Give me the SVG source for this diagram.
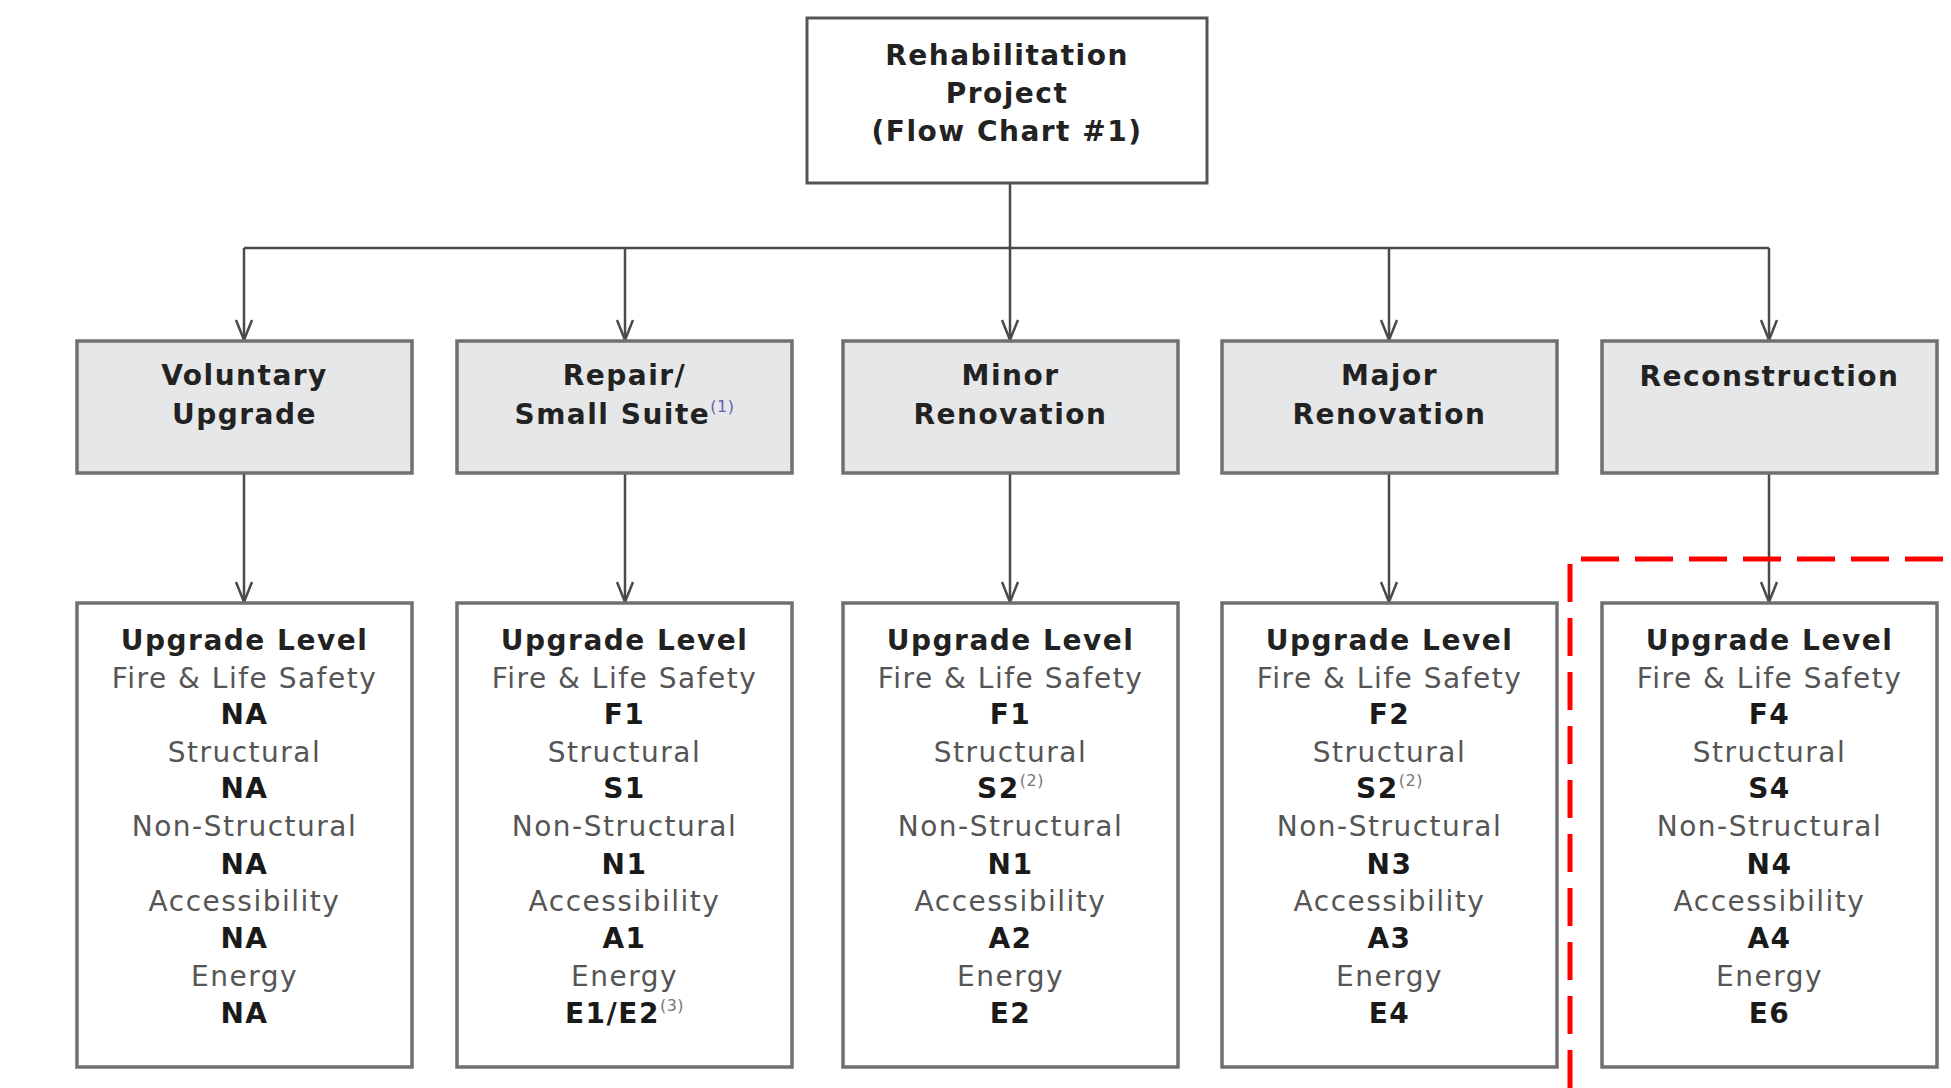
<svg xmlns="http://www.w3.org/2000/svg" width="1951" height="1088" viewBox="0 0 1951 1088">
<defs>
<style>
text{font-family:"DejaVu Sans","Verdana",sans-serif;font-size:28px;letter-spacing:1.5px;text-anchor:middle}
.hd{font-weight:bold;fill:#222}
.lbl{fill:#555}
.val{font-weight:bold;fill:#1a1a1a}
.sup{font-size:16px;font-weight:normal;letter-spacing:0.5px}
.top{fill:#fff;stroke:#555;stroke-width:3}
.cat{fill:#e6e7e9;stroke:#707070;stroke-width:3.5}
.lvl{fill:#fff;stroke:#707070;stroke-width:3.5}
.conn{fill:none;stroke:#4a4a4a;stroke-width:2.5}
</style>
<marker id="arr" viewBox="-22 -10 24 20" markerWidth="24" markerHeight="20" refX="0" refY="0" orient="auto" markerUnits="userSpaceOnUse">
<path d="M -20 -8 L 0 0 L -20 8" fill="none" stroke="#4a4a4a" stroke-width="2.5"/>
</marker>
</defs>
<rect width="1951" height="1088" fill="#fff"/>

<g id="connectors">
<path class="conn" d="M 1010 183 L 1010 248"/>
<path class="conn" d="M 244 248 L 1769 248"/>
<path class="conn" d="M 244 248 L 244 340" marker-end="url(#arr)"/>
<path class="conn" d="M 625 248 L 625 340" marker-end="url(#arr)"/>
<path class="conn" d="M 1010 248 L 1010 340" marker-end="url(#arr)"/>
<path class="conn" d="M 1389 248 L 1389 340" marker-end="url(#arr)"/>
<path class="conn" d="M 1769 248 L 1769 340" marker-end="url(#arr)"/>
<path class="conn" d="M 244 473 L 244 602" marker-end="url(#arr)"/>
<path class="conn" d="M 625 473 L 625 602" marker-end="url(#arr)"/>
<path class="conn" d="M 1010 473 L 1010 602" marker-end="url(#arr)"/>
<path class="conn" d="M 1389 473 L 1389 602" marker-end="url(#arr)"/>
<path class="conn" d="M 1769 473 L 1769 602" marker-end="url(#arr)"/>
</g>

<g id="project">
<rect class="top" x="807" y="18" width="400" height="165"/>
<text class="hd" x="1007" y="65">Rehabilitation</text>
<text class="hd" x="1007" y="103">Project</text>
<text class="hd" x="1007" y="141">(Flow Chart #1)</text>
</g>

<g id="voluntary">
<rect class="cat" x="77" y="341" width="335" height="132"/>
<text class="hd" x="244.5" y="385">Voluntary</text>
<text class="hd" x="244.5" y="424">Upgrade</text>
</g>
<g id="repair">
<rect class="cat" x="457" y="341" width="335" height="132"/>
<text class="hd" x="624.5" y="385">Repair/</text>
<text class="hd" x="624.5" y="424">Small Suite<tspan class="sup" dy="-12" fill="#6a5fb0">(1)</tspan></text>
</g>
<g id="minor">
<rect class="cat" x="843" y="341" width="335" height="132"/>
<text class="hd" x="1010.5" y="385">Minor</text>
<text class="hd" x="1010.5" y="424">Renovation</text>
</g>
<g id="major">
<rect class="cat" x="1222" y="341" width="335" height="132"/>
<text class="hd" x="1389.5" y="385">Major</text>
<text class="hd" x="1389.5" y="424">Renovation</text>
</g>
<g id="reconstruction">
<rect class="cat" x="1602" y="341" width="335" height="132"/>
<text class="hd" x="1769.5" y="386">Reconstruction</text>
</g>

<g id="level-voluntary">
<rect class="lvl" x="77" y="603" width="335" height="464"/>
<text class="hd" x="244.5" y="650">Upgrade Level</text>
<text class="lbl" x="244.5" y="688">Fire &amp; Life Safety</text>
<text class="val" x="244.5" y="724">NA</text>
<text class="lbl" x="244.5" y="762">Structural</text>
<text class="val" x="244.5" y="798">NA</text>
<text class="lbl" x="244.5" y="836">Non-Structural</text>
<text class="val" x="244.5" y="874">NA</text>
<text class="lbl" x="244.5" y="911">Accessibility</text>
<text class="val" x="244.5" y="948">NA</text>
<text class="lbl" x="244.5" y="986">Energy</text>
<text class="val" x="244.5" y="1023">NA</text>
</g>
<g id="level-repair">
<rect class="lvl" x="457" y="603" width="335" height="464"/>
<text class="hd" x="624.5" y="650">Upgrade Level</text>
<text class="lbl" x="624.5" y="688">Fire &amp; Life Safety</text>
<text class="val" x="624.5" y="724">F1</text>
<text class="lbl" x="624.5" y="762">Structural</text>
<text class="val" x="624.5" y="798">S1</text>
<text class="lbl" x="624.5" y="836">Non-Structural</text>
<text class="val" x="624.5" y="874">N1</text>
<text class="lbl" x="624.5" y="911">Accessibility</text>
<text class="val" x="624.5" y="948">A1</text>
<text class="lbl" x="624.5" y="986">Energy</text>
<text class="val" x="624.5" y="1023">E1/E2<tspan class="sup" dy="-12" fill="#777">(3)</tspan></text>
</g>
<g id="level-minor">
<rect class="lvl" x="843" y="603" width="335" height="464"/>
<text class="hd" x="1010.5" y="650">Upgrade Level</text>
<text class="lbl" x="1010.5" y="688">Fire &amp; Life Safety</text>
<text class="val" x="1010.5" y="724">F1</text>
<text class="lbl" x="1010.5" y="762">Structural</text>
<text class="val" x="1010.5" y="798">S2<tspan class="sup" dy="-12" fill="#777">(2)</tspan></text>
<text class="lbl" x="1010.5" y="836">Non-Structural</text>
<text class="val" x="1010.5" y="874">N1</text>
<text class="lbl" x="1010.5" y="911">Accessibility</text>
<text class="val" x="1010.5" y="948">A2</text>
<text class="lbl" x="1010.5" y="986">Energy</text>
<text class="val" x="1010.5" y="1023">E2</text>
</g>
<g id="level-major">
<rect class="lvl" x="1222" y="603" width="335" height="464"/>
<text class="hd" x="1389.5" y="650">Upgrade Level</text>
<text class="lbl" x="1389.5" y="688">Fire &amp; Life Safety</text>
<text class="val" x="1389.5" y="724">F2</text>
<text class="lbl" x="1389.5" y="762">Structural</text>
<text class="val" x="1389.5" y="798">S2<tspan class="sup" dy="-12" fill="#777">(2)</tspan></text>
<text class="lbl" x="1389.5" y="836">Non-Structural</text>
<text class="val" x="1389.5" y="874">N3</text>
<text class="lbl" x="1389.5" y="911">Accessibility</text>
<text class="val" x="1389.5" y="948">A3</text>
<text class="lbl" x="1389.5" y="986">Energy</text>
<text class="val" x="1389.5" y="1023">E4</text>
</g>
<g id="level-reconstruction">
<rect class="lvl" x="1602" y="603" width="335" height="464"/>
<text class="hd" x="1769.5" y="650">Upgrade Level</text>
<text class="lbl" x="1769.5" y="688">Fire &amp; Life Safety</text>
<text class="val" x="1769.5" y="724">F4</text>
<text class="lbl" x="1769.5" y="762">Structural</text>
<text class="val" x="1769.5" y="798">S4</text>
<text class="lbl" x="1769.5" y="836">Non-Structural</text>
<text class="val" x="1769.5" y="874">N4</text>
<text class="lbl" x="1769.5" y="911">Accessibility</text>
<text class="val" x="1769.5" y="948">A4</text>
<text class="lbl" x="1769.5" y="986">Energy</text>
<text class="val" x="1769.5" y="1023">E6</text>
</g>

<path id="highlight" d="M 1570 1088 L 1570 559 L 1951 559" fill="none" stroke="#ff0000" stroke-width="5" stroke-dasharray="38 16"/>
</svg>
